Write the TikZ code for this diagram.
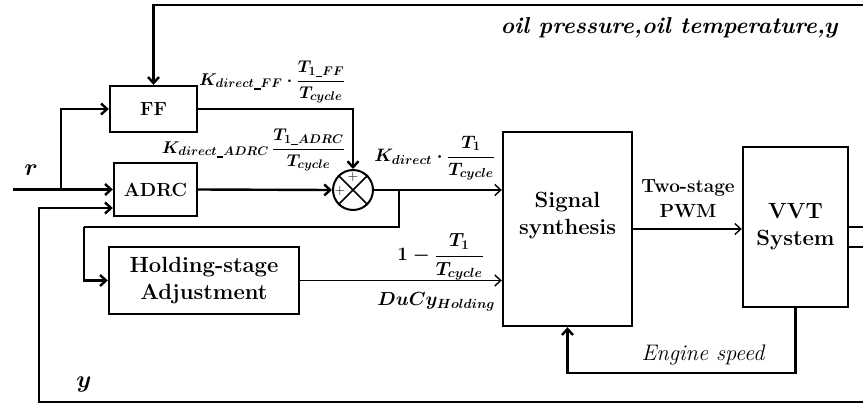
\RequirePackage{fix-cm}
\documentclass[tikz,border=0pt]{standalone}
\usetikzlibrary{arrows.meta}
\DeclareMathSizes{17}{17}{12.5}{10}
\DeclareMathSizes{18}{18}{13}{10}
\newcommand{\usc}{\mbox{\rule[-0.1em]{0.4em}{0.07em}}}
\begin{document}
\begin{tikzpicture}[x=1pt,y=-1pt,
  blk/.style={draw, line width=2.4pt, inner sep=0pt, align=center,
    font=\fontsize{22}{27}\selectfont\bfseries},
  thk/.style={line width=2.4pt},
  thn/.style={line width=1.4pt},
  >={Straight Barb[length=6pt,width=11pt]},
  mlab/.style={inner sep=0pt, font=\fontsize{17}{20}\selectfont\boldmath},
  plab/.style={inner sep=0pt, font=\fontsize{14}{14}\selectfont}]
\useasboundingbox (0,0) rectangle (863,410);
% blocks
\node[blk, minimum width=87pt, minimum height=46pt, font=\fontsize{19}{22}\selectfont\bfseries] (ff) at (153.5,109) {FF};
\node[blk, minimum width=83pt, minimum height=53pt, font=\fontsize{19}{22}\selectfont\bfseries] (adrc) at (155.5,189.5) {ADRC};
\node[draw, circle, minimum size=40pt, inner sep=0pt, line width=2pt] (sum) at (353,190) {};
\draw[line width=1.6pt] (sum.north east) -- (sum.south west);
\draw[line width=1.6pt] (sum.north west) -- (sum.south east);
\node[plab] (p1) at (353,177) {$+$};
\node[plab] (p2) at (340,191) {$+$};
\node[blk, minimum width=190pt, minimum height=67pt] (hold) at (204,280.5) {Holding-stage\\Adjustment};
\node[blk, minimum width=129pt, minimum height=194pt] (sig) at (567.5,229) {};
\node[inner sep=0pt, align=center, font=\fontsize{22}{27}\selectfont\bfseries] (sigtxt) at (567.5,216) {Signal\\synthesis};
\node[blk, minimum width=105pt, minimum height=160pt] (vvt) at (795.5,227) {VVT\\System};
% coordinates
\coordinate (rin) at (13,189.5);
\coordinate (rbr) at (61,189.5);
\coordinate (topR) at (863,5);
\coordinate (botR) at (863,402);
\coordinate (yL) at (39,402);
\coordinate (yin) at (39,208);
\coordinate (br) at (399,190);
\coordinate (br2) at (84,227);
\coordinate (o1) at (863,227);
\coordinate (o2) at (863,247);
\coordinate (es) at (0,373);
% connectors
\draw[thk,->] (rin) -- (adrc.west);
\draw[thk,->] (rbr) |- (ff.west);
\draw[thk,->] (topR) -| (ff.north);
\draw[thk,->] (botR) -- (yL) -- (yin) -- (adrc.west |- yin);
\draw[thk,->] (adrc.east) -- (sum.west);
\draw[thk,->] (ff.east) -| (sum.north);
\draw[thn,->] (sum.east) -- (sig.west |- sum.east);
\draw[thk] (br) |- (br2);
\draw[thk,->] (br2) |- (hold.west);
\draw[thn,->] (hold.east) -- (sig.west |- hold.east);
\draw[thn,->] (sig.east) -- (vvt.west |- sig.east);
\draw[thn] (vvt.east) -- (o1);
\draw[thn] (vvt.east |- o2) -- (o2);
\draw[thk,->] (vvt.south) -- (vvt.south |- es) -| (sig.south);
% labels
\node[mlab, anchor=west] (l1) at (199,82) {$\displaystyle K_{direct\usc FF}\cdot\frac{T_{1\usc FF}}{T_{cycle}}$};
\node[mlab, anchor=east] (l2) at (345,150) {$\displaystyle K_{direct\usc ADRC}\,\frac{T_{1\usc ADRC}}{T_{cycle}}$};
\node[mlab, anchor=east, font=\fontsize{18}{21}\selectfont\boldmath] (l3) at (495,158) {$\displaystyle K_{direct}\cdot\frac{T_1}{T_{cycle}}$};
\node[mlab, anchor=east, font=\fontsize{19}{22}\selectfont\boldmath] (l4) at (484,257) {$\displaystyle 1-\frac{T_1}{T_{cycle}}$};
\node[mlab, anchor=east, font=\fontsize{19}{22}\selectfont\boldmath] (l5) at (495,302) {$DuCy_{Holding}$};
\node[inner sep=0pt, font=\fontsize{24}{24}\selectfont\boldmath] (rl) at (31,170) {$r$};
\node[inner sep=0pt, font=\fontsize{24}{24}\selectfont\boldmath] (yl) at (84,384) {$y$};
\node[inner sep=0pt, font=\fontsize{23}{23}\selectfont\bfseries\itshape\boldmath] (oil) at (670,28) {oil pressure,oil temperature,$y$};
\node[inner sep=0pt, font=\fontsize{22.5}{22.5}\selectfont\itshape] (eng) at (703,355) {Engine speed};
\node[inner sep=0pt, align=center, font=\fontsize{19}{25}\selectfont\bfseries] (pwm) at (688,199) {Two-stage\\PWM};
\end{tikzpicture}
\end{document}
